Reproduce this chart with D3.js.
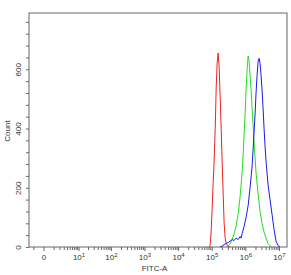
<!DOCTYPE html>
<html>
<head>
<meta charset="utf-8">
<script src="https://cdn.jsdelivr.net/npm/d3@7"></script>
<style>
  body { margin: 0; background: #fff; }
  svg { font-family: "Liberation Sans", Arial, sans-serif; }
  .axis path, .axis line { stroke: #666; }
  .axis text { fill: #333; }
</style>
</head>
<body>
<div id="chart"></div>
<script>
// DATA (FITC-A intensity, count)
var redFitc   = [84000, 90000, 96300, 103000, 110000, 118000, 127000, 136000, 145000, 155000, 166000, 178000, 191000, 204000, 219000, 234000, 251000, 268000, 308000, 353000];
var redCount  = [0, 5, 55, 130, 210, 290, 400, 540, 620, 655, 610, 510, 400, 290, 180, 80, 30, 12, 3, 0];

var greenFitc  = [268000, 308000, 353000, 404000, 463000, 531000, 609000, 698000, 800000, 857000, 918000, 982000, 1050000, 1130000, 1210000, 1290000, 1380000, 1480000, 1580000, 1700000, 1820000, 1950000, 2080000, 2390000, 2740000, 3140000, 3600000, 4120000, 4730000, 5420000, 6210000];
var greenCount = [0, 4, 10, 25, 45, 70, 110, 170, 250, 310, 380, 450, 530, 600, 645, 630, 580, 530, 470, 410, 350, 300, 250, 180, 120, 80, 50, 30, 12, 4, 0];

var blueFitc  = [178000, 204000, 234000, 268000, 308000, 353000, 404000, 463000, 531000, 609000, 698000, 748000, 800000, 918000, 1050000, 1210000, 1380000, 1580000, 1700000, 1820000, 1950000, 2080000, 2230000, 2390000, 2560000, 2740000, 2930000, 3140000, 3360000, 3600000, 3850000, 4120000, 4410000, 4730000, 5420000, 6210000, 7120000, 8160000, 9360000, 10700000];
var blueCount = [0, 3, 8, 12, 15, 20, 25, 22, 30, 25, 35, 30, 45, 70, 100, 140, 200, 270, 330, 390, 450, 520, 580, 625, 637, 620, 580, 530, 470, 400, 340, 290, 250, 210, 160, 110, 60, 20, 5, 0];

var xMajor = [0, 1e1, 1e2, 1e3, 1e4, 1e5, 1e6, 1e7];
var yLabels = [0, 200, 400, 600];

// SETUP
var width = 291, height = 275,
  margin = { top: 13, right: 4, bottom: 28, left: 29 },
  w = width - margin.left - margin.right,
  h = height - margin.top - margin.bottom;

var x = d3.scaleSymlog().constant(1).domain([-1.7, 1.73e7]).range([0, w]);
var y = d3.scaleLinear().domain([0, 790]).range([h, 0]);

var svg = d3.select("#chart").append("svg")
  .attr("width", width)
  .attr("height", height);

var g = svg.append("g")
  .attr("transform", "translate(" + margin.left + "," + margin.top + ")");

// minor ticks: 1..9 x 10^k
var xMinor = [-1];
d3.range(0, 7).forEach(function (k) {
  d3.range(1, 10).forEach(function (m) {
    if (k === 0 || m > 1) xMinor.push(m * Math.pow(10, k));
  });
});

g.append("g")
  .attr("class", "axis")
  .attr("transform", "translate(0," + h + ")")
  .call(d3.axisBottom(x).tickValues(xMinor).tickSize(3).tickSizeOuter(0).tickFormat(""))
  .select(".domain").remove();

var xAxis = g.append("g")
  .attr("class", "axis")
  .attr("transform", "translate(0," + h + ")")
  .call(d3.axisBottom(x).tickValues(xMajor).tickSize(4).tickSizeOuter(0).tickPadding(3));
xAxis.select(".domain").remove();
xAxis.selectAll(".tick text")
  .style("font-size", "8px")
  .text(null)
  .each(function (d) {
    var t = d3.select(this);
    if (d === 0) { t.text("0"); return; }
    t.append("tspan").text("10");
    t.append("tspan")
      .attr("dy", "-0.45em")
      .style("font-size", "6px")
      .text(Math.round(Math.log10(d)));
  });

var yAxis = g.append("g")
  .attr("class", "axis")
  .call(d3.axisLeft(y).tickValues(d3.range(0, 781, 40)).tickSize(3).tickSizeOuter(0)
    .tickFormat(function (d) { return yLabels.indexOf(d) >= 0 ? d : ""; }));
yAxis.select(".domain").remove();
yAxis.selectAll(".tick text")
  .style("font-size", "8px")
  .attr("text-anchor", "middle")
  .attr("x", 0)
  .attr("dy", 0)
  .attr("transform", "translate(-8,0) rotate(-90)");

// frame
g.append("rect")
  .attr("width", w)
  .attr("height", h)
  .attr("fill", "none")
  .attr("stroke", "#666")
  .attr("stroke-width", 1);

// HISTOGRAMS
var line = d3.line()
  .x(function (d) { return x(d[0]); })
  .y(function (d) { return y(d[1]); });

var series = [
  { fitc: redFitc, count: redCount, color: "#ee2222" },
  { fitc: greenFitc, count: greenCount, color: "#22dd22" },
  { fitc: blueFitc, count: blueCount, color: "#1a1aee" }
];

g.selectAll(".hist")
  .data(series)
  .enter().append("path")
  .attr("class", "hist")
  .attr("fill", "none")
  .attr("stroke", function (d) { return d.color; })
  .attr("stroke-width", 1)
  .attr("d", function (d) { return line(d3.zip(d.fitc, d.count)); });

// AXIS TITLES
svg.append("text")
  .attr("x", margin.left + x(2e3))
  .attr("y", 271)
  .attr("text-anchor", "middle")
  .style("font-size", "8px")
  .style("fill", "#333")
  .text("FITC-A");

svg.append("text")
  .attr("transform", "translate(10," + 131 + ") rotate(-90)")
  .attr("text-anchor", "middle")
  .style("font-size", "8px")
  .style("fill", "#333")
  .text("Count");
</script>
</body>
</html>
